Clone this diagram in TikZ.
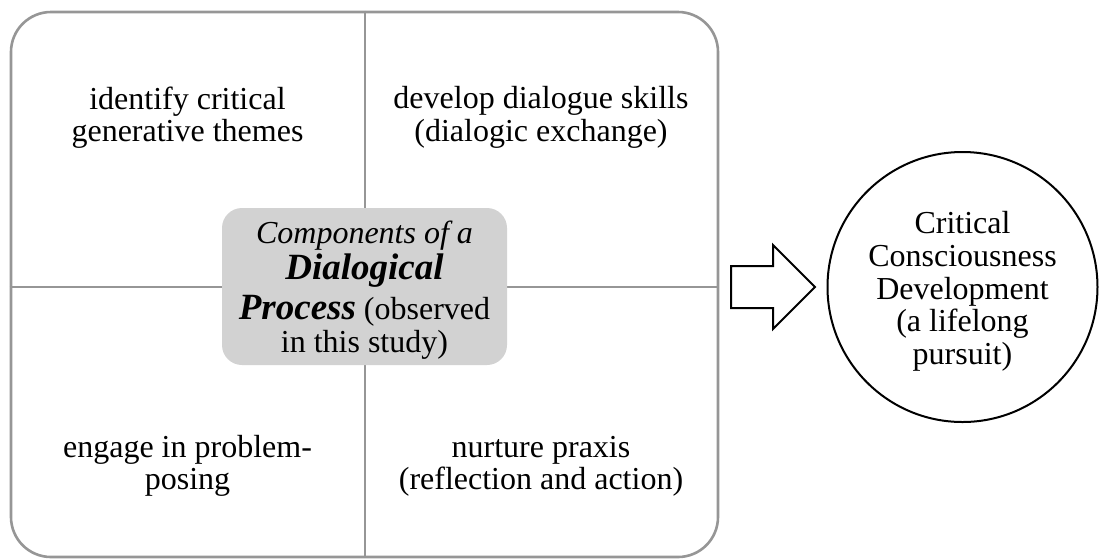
\documentclass[tikz,border=0pt]{standalone}
\usepackage{fontspec}
\setmainfont{Liberation Serif}
\definecolor{framegray}{RGB}{150,150,150}
\definecolor{coregray}{RGB}{210,210,210}
\begin{document}
\begin{tikzpicture}[x=0.5pt,y=-0.5pt,
  frame/.style={draw=framegray, line width=1.3pt, rounded corners=20pt,
    minimum width=353.5pt, minimum height=272.5pt, inner sep=0pt},
  divider/.style={draw=framegray, line width=1pt},
  label/.style={align=center, font=\fontsize{16}{16.2}\selectfont, inner sep=0pt},
  core/.style={fill=coregray, rounded corners=10pt, minimum width=142.5pt,
    minimum height=78.5pt, inner sep=0pt, align=center,
    font=\fontsize{16}{16.5}\selectfont},
  goal/.style={draw, circle, line width=1pt, minimum size=135pt, inner sep=0pt,
    align=center, font=\fontsize{16}{16.3}\selectfont},
  blockarrow/.style={draw, line width=1pt, line join=miter}]
\useasboundingbox (0,0) rectangle (1099,559);

% outer rounded frame split into four quadrants
\node[frame] (frame) at (364.5,284.5) {};
\coordinate (mid) at (364.5,286.5);
\draw[divider] (frame.north) -- (frame.south);
\draw[divider] (frame.west |- mid) -- (frame.east |- mid);

% quadrant labels
\node[label] (tl) at (187.5,117.5) {identify critical\\generative themes};
\node[label] (tr) at (541,117.5) {develop dialogue skills\\(dialogic exchange)};
\node[label] (bl) at (187.5,466) {engage in problem-\\posing};
\node[label] (br) at (541,466) {nurture praxis\\(reflection and action)};

% central shaded box
\node[core] (core) at (mid) {%
  \rule{0pt}{15pt}{\itshape Components of a}\\[1.5pt]
  {\fontsize{18.5}{20}\selectfont\bfseries\itshape Dialogical}\\[3.5pt]
  {\fontsize{18.5}{20}\selectfont\bfseries\itshape Process} (observed\\
  in this study)};

% outcome circle
\node[goal] (goal) at (962.5,287) {\rule{0pt}{15.5pt}Critical\\Consciousness\\Development\\(a lifelong\\pursuit)};

% block arrow leading to the outcome
\draw[blockarrow] (731,266) -- (773,266) -- (773,245) -- (815,287)
  -- (773,329) -- (773,308) -- (731,308) -- cycle;
\end{tikzpicture}
\end{document}
